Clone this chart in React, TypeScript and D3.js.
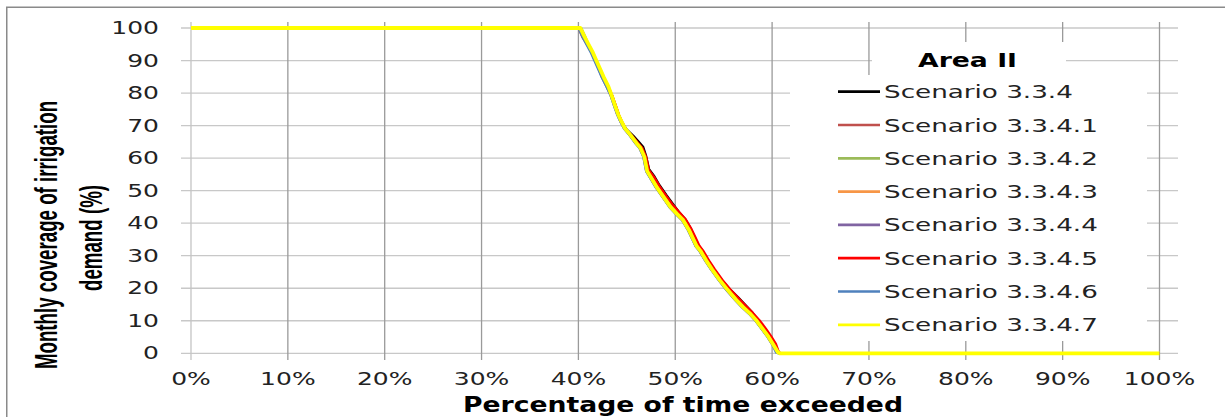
import React from "react";
import * as d3 from "d3";

const names = [
  "Scenario 3.3.4",
  "Scenario 3.3.4.1",
  "Scenario 3.3.4.2",
  "Scenario 3.3.4.3",
  "Scenario 3.3.4.4",
  "Scenario 3.3.4.5",
  "Scenario 3.3.4.6",
  "Scenario 3.3.4.7",
];
const colors = ["#000000", "#C0504D", "#9BBB59", "#F79646", "#8064A2", "#FF0000", "#4F81BD", "#FFFF00"];

const xTicks = [0, 10, 20, 30, 40, 50, 60, 70, 80, 90, 100];
const yTicks = [0, 10, 20, 30, 40, 50, 60, 70, 80, 90, 100];

// [percent of time exceeded, coverage %]
const s334: [number, number][] = [
  [0, 100], [40.1, 100], [40.5, 97.3], [40.9, 95.0], [41.5, 92.0], [42.0, 88.8], [42.6, 84.8], [43.1, 81.8],
  [43.5, 79.0], [43.9, 75.6], [44.2, 73.0], [44.5, 71.0], [45.0, 68.8], [45.7, 66.8], [46.3, 64.8], [46.7, 63.4],
  [47.0, 60.6], [47.3, 56.6], [47.8, 54.6], [48.4, 51.6], [49.1, 48.6], [49.8, 45.8], [50.4, 43.4], [51.0, 41.4],
  [51.6, 38.4], [52.0, 35.8], [52.4, 33.2], [52.8, 31.6], [53.4, 28.6], [54.0, 25.8], [54.8, 22.6], [55.6, 19.8],
  [56.5, 17.2], [57.2, 15.0], [57.9, 12.8], [58.5, 10.4], [59.2, 7.6], [59.7, 5.4], [60.2, 3.0], [60.6, 0.4],
  [60.8, 0], [100, 0],
];
const s3341: [number, number][] = [
  [0, 100], [40.0, 100], [40.4, 97.2], [40.9, 94.9], [41.4, 92.0], [41.9, 88.7], [42.5, 84.8], [43.0, 81.8],
  [43.4, 79.1], [43.8, 75.6], [44.1, 73.1], [44.4, 71.0], [44.9, 68.9], [45.5, 66.6], [46.1, 64.4], [46.5, 63.0],
  [46.9, 60.2], [47.2, 56.2], [47.7, 54.2], [48.3, 51.2], [49.0, 48.2], [49.7, 45.3], [50.4, 43.0], [51.0, 41.0],
  [51.6, 38.0], [52.0, 35.4], [52.4, 32.9], [52.8, 31.3], [53.4, 28.3], [54.0, 25.6], [54.8, 22.3], [55.6, 19.4],
  [56.5, 16.6], [57.2, 14.5], [57.9, 12.4], [58.6, 10.1], [59.3, 7.3], [59.8, 5.2], [60.3, 2.8], [60.7, 0.3],
  [60.9, 0], [100, 0],
];
const s3342: [number, number][] = [
  [0, 100], [40.3, 100], [40.7, 97.5], [41.0, 95.3], [41.5, 92.5], [42.0, 89.1], [42.6, 85.1], [43.1, 82.1],
  [43.4, 79.6], [43.8, 76.1], [44.1, 73.6], [44.4, 71.6], [44.8, 69.3], [45.4, 67.1], [46.0, 64.7], [46.4, 63.3],
  [46.8, 60.6], [47.1, 56.1], [47.5, 54.1], [48.1, 51.1], [48.8, 48.1], [49.5, 45.1], [50.2, 42.9], [50.8, 41.1],
  [51.4, 38.1], [51.8, 35.6], [52.2, 33.1], [52.6, 31.6], [53.2, 28.6], [53.8, 25.9], [54.6, 22.6], [55.4, 19.6],
  [56.3, 16.5], [57.0, 14.3], [57.7, 12.4], [58.4, 10.1], [59.1, 7.3], [59.6, 5.3], [60.1, 2.9], [60.6, 0.4],
  [60.8, 0], [100, 0],
];
const s3343: [number, number][] = [
  [0, 100], [40.2, 100], [40.6, 97.4], [41.0, 95.1], [41.5, 92.3], [42.0, 88.9], [42.6, 84.9], [43.1, 81.9],
  [43.5, 79.3], [43.9, 75.9], [44.2, 73.3], [44.5, 71.3], [44.9, 69.0], [45.5, 66.9], [46.1, 64.5], [46.5, 63.1],
  [46.9, 60.4], [47.2, 56.0], [47.6, 54.0], [48.2, 51.0], [48.9, 48.0], [49.6, 45.0], [50.3, 42.8], [50.9, 40.9],
  [51.5, 37.9], [51.9, 35.4], [52.3, 32.9], [52.7, 31.4], [53.3, 28.4], [53.9, 25.7], [54.7, 22.4], [55.5, 19.4],
  [56.4, 16.3], [57.1, 14.1], [57.8, 12.2], [58.5, 9.9], [59.2, 7.1], [59.7, 5.1], [60.2, 2.7], [60.6, 0.3],
  [60.8, 0], [100, 0],
];
const s3344: [number, number][] = [
  [0, 100], [40.1, 100], [40.5, 97.4], [40.9, 95.1], [41.4, 92.3], [41.9, 88.9], [42.4, 84.9], [42.9, 81.9],
  [43.3, 79.4], [43.7, 75.9], [44.0, 73.4], [44.3, 71.4], [44.7, 69.1], [45.3, 66.9], [45.9, 64.5], [46.3, 63.1],
  [46.7, 60.4], [47.0, 55.9], [47.4, 53.9], [48.0, 50.9], [48.7, 47.9], [49.4, 44.9], [50.1, 42.7], [50.7, 40.9],
  [51.3, 37.9], [51.7, 35.4], [52.1, 32.9], [52.5, 31.4], [53.1, 28.4], [53.7, 25.7], [54.5, 22.4], [55.3, 19.4],
  [56.2, 16.3], [56.9, 14.1], [57.6, 12.2], [58.3, 9.9], [59.0, 7.1], [59.5, 5.1], [60.0, 2.7], [60.5, 0.2],
  [60.7, 0], [100, 0],
];
const s3345: [number, number][] = [
  [0, 100], [40.1, 100], [40.5, 97.3], [41.0, 95.0], [41.5, 92.1], [42.0, 88.8], [42.6, 84.8], [43.1, 81.8],
  [43.5, 79.2], [43.9, 75.8], [44.2, 73.2], [44.5, 71.2], [44.9, 68.9], [45.6, 66.7], [46.2, 64.6], [46.6, 63.2],
  [47.0, 60.4], [47.3, 56.3], [47.8, 54.3], [48.4, 51.3], [49.1, 48.3], [49.8, 45.5], [50.5, 43.1], [51.1, 41.1],
  [51.7, 38.1], [52.1, 35.6], [52.5, 33.1], [52.9, 31.5], [53.5, 28.5], [54.1, 25.8], [54.9, 22.5], [55.7, 19.6],
  [56.6, 16.8], [57.3, 14.6], [58.0, 12.5], [58.7, 10.2], [59.4, 7.4], [59.9, 5.3], [60.4, 2.9], [60.7, 0.4],
  [60.9, 0], [100, 0],
];
const s3346: [number, number][] = [
  [0, 100], [40.0, 100], [40.4, 97.4], [40.8, 95.1], [41.3, 92.3], [41.8, 88.9], [42.4, 84.9], [42.9, 81.9],
  [43.3, 79.4], [43.7, 75.9], [44.0, 73.4], [44.3, 71.4], [44.7, 69.1], [45.3, 66.9], [45.9, 64.5], [46.3, 63.1],
  [46.7, 60.4], [47.0, 55.9], [47.4, 53.9], [48.0, 50.9], [48.7, 47.9], [49.4, 44.9], [50.1, 42.7], [50.7, 40.9],
  [51.3, 37.9], [51.7, 35.4], [52.1, 32.9], [52.5, 31.4], [53.1, 28.4], [53.7, 25.7], [54.5, 22.4], [55.3, 19.4],
  [56.2, 16.3], [56.9, 14.1], [57.6, 12.2], [58.3, 9.9], [59.0, 7.1], [59.5, 5.1], [60.0, 2.7], [60.4, 0.2],
  [60.6, 0], [100, 0],
];
const s3347: [number, number][] = [
  [0, 100], [40.2, 100], [40.6, 97.5], [41.0, 95.2], [41.5, 92.4], [42.0, 89.0], [42.6, 85.0], [43.1, 82.0],
  [43.4, 79.5], [43.8, 76.0], [44.1, 73.5], [44.4, 71.5], [44.8, 69.2], [45.4, 67.0], [46.0, 64.6], [46.4, 63.2],
  [46.8, 60.5], [47.1, 56.0], [47.5, 54.0], [48.1, 51.0], [48.8, 48.0], [49.5, 45.0], [50.2, 42.8], [50.8, 41.0],
  [51.4, 38.0], [51.8, 35.5], [52.2, 33.0], [52.6, 31.5], [53.2, 28.5], [53.8, 25.8], [54.6, 22.5], [55.4, 19.5],
  [56.3, 16.4], [57.0, 14.2], [57.7, 12.3], [58.4, 10.0], [59.1, 7.2], [59.6, 5.2], [60.1, 2.8], [60.6, 0.3],
  [60.8, 0], [100, 0],
];

const seriesData = [s334, s3341, s3342, s3343, s3344, s3345, s3346, s3347];

const W = 1225;
const H = 417;
const x = d3.scaleLinear().domain([0, 100]).range([191, 1159.5]);
const y = d3.scaleLinear().domain([0, 100]).range([353.3, 28]);
const line = d3
  .line<[number, number]>()
  .x((d) => x(d[0]))
  .y((d) => y(d[1]));

const SX = 1.47;

export default function App() {
  const legendTop = 91.7;
  const legendStep = 33.3;
  return (
    <svg
      width={W}
      height={H}
      style={{ position: "absolute", left: 0, top: 0, display: "block", background: "#fff" }}
    >
      <rect x={0} y={0} width={W} height={H} fill="#fff" />
      <rect x={6.75} y={7.25} width={1300} height={500} fill="none" stroke="#8a8a8a" strokeWidth={1.5} />

      {/* horizontal gridlines */}
      {yTicks.map((t) => (
        <line key={"h" + t} x1={181} x2={1178} y1={y(t)} y2={y(t)} stroke="#c8c8c8" strokeWidth={1.3} />
      ))}
      {/* vertical gridlines */}
      {xTicks.map((t) => (
        <line
          key={"v" + t}
          x1={x(t)}
          x2={x(t)}
          y1={22}
          y2={360}
          stroke={t === 0 ? "#c4c4c4" : "#9a9a9a"}
          strokeWidth={1.3}
        />
      ))}

      {/* legend background boxes */}
      <rect x={790} y={75} width={357} height={266} fill="#fff" />
      <rect x={872} y={42} width={194} height={33} fill="#fff" />

      {/* series */}
      {seriesData.map((s, i) => (
        <path
          key={"s" + i}
          d={line(s) || ""}
          fill="none"
          stroke={colors[i]}
          strokeWidth={i === 7 ? 3.8 : 2.2}
          strokeLinejoin="round"
        />
      ))}

      {/* y tick labels */}
      {yTicks.map((t) => (
        <text
          key={"yl" + t}
          transform={`translate(159,${y(t) + 6}) scale(${SX},1)`}
          textAnchor="end"
          fontFamily="DejaVu Sans"
          fontSize={17}
          fill="#222"
        >
          {t}
        </text>
      ))}
      {/* x tick labels */}
      {xTicks.map((t) => (
        <text
          key={"xl" + t}
          transform={`translate(${x(t)},385) scale(${SX},1)`}
          textAnchor="middle"
          fontFamily="DejaVu Sans"
          fontSize={17}
          fill="#222"
        >
          {t + "%"}
        </text>
      ))}

      {/* axis titles */}
      <text
        x={463}
        y={411.5}
        fontFamily="DejaVu Sans"
        fontWeight="bold"
        fontSize={20.5}
        textLength={440}
        lengthAdjust="spacingAndGlyphs"
        fill="#000"
      >
        Percentage of time exceeded
      </text>
      <g transform="translate(56.5,235) rotate(-90) scale(0.585,1)">
        <text
          x={0}
          y={0}
          textAnchor="middle"
          fontFamily="Liberation Sans"
          fontWeight="bold"
          fontSize={32}
          fill="#000"
        >
          Monthly coverage of irrigation
        </text>
      </g>
      <g transform="translate(101.5,238) rotate(-90) scale(0.585,1)">
        <text
          x={0}
          y={0}
          textAnchor="middle"
          fontFamily="Liberation Sans"
          fontWeight="bold"
          fontSize={32}
          fill="#000"
        >
          demand (%)
        </text>
      </g>

      {/* legend */}
      <text
        x={918}
        y={67}
        fontFamily="DejaVu Sans"
        fontWeight="bold"
        fontSize={19}
        textLength={99}
        lengthAdjust="spacingAndGlyphs"
        fill="#000"
      >
        Area II
      </text>
      {names.map((n, i) => {
        const cy = legendTop + i * legendStep;
        return (
          <g key={"lg" + i}>
            <line x1={838} x2={880} y1={cy} y2={cy} stroke={colors[i]} strokeWidth={2.7} />
            <text
              transform={`translate(884,${cy + 6.5}) scale(1.456,1)`}
              fontFamily="DejaVu Sans"
              fontSize={18}
              fill="#222"
            >
              {n}
            </text>
          </g>
        );
      })}
    </svg>
  );
}
